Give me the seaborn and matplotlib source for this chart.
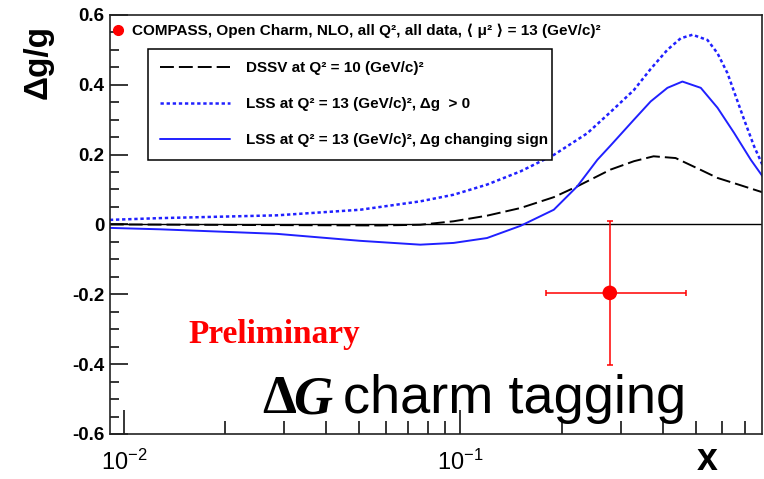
import matplotlib
matplotlib.use("Agg")
import matplotlib.pyplot as plt
import seaborn as sns
from matplotlib.lines import Line2D
from matplotlib.ticker import FixedLocator, FixedFormatter, LogLocator, LogFormatterMathtext, NullFormatter

# curves
dssv_x = [0.00909, 0.0285, 0.0578, 0.076, 0.0955, 0.12, 0.151, 0.1895, 0.2225, 0.2795,
          0.328, 0.375, 0.436, 0.518, 0.581, 0.651, 0.79]
dssv_y = [0.0, -0.002, -0.003, -0.001, 0.009, 0.025, 0.047, 0.078, 0.109, 0.157,
          0.181, 0.195, 0.19, 0.156, 0.133, 0.118, 0.092]

lss_pos_x = [0.00909, 0.0128, 0.0285, 0.0504, 0.076, 0.0955, 0.12, 0.151, 0.1895, 0.2383,
             0.2795, 0.328, 0.3676, 0.4123, 0.4517, 0.4893, 0.5422, 0.5808, 0.6217, 0.6506,
             0.6967, 0.7464, 0.7777, 0.79]
lss_pos_y = [0.013, 0.018, 0.026, 0.042, 0.066, 0.085, 0.114, 0.152, 0.199, 0.261,
             0.322, 0.385, 0.445, 0.50, 0.533, 0.543, 0.528, 0.49, 0.433, 0.38,
             0.30, 0.223, 0.185, 0.17]

lss_sign_x = [0.00909, 0.0128, 0.0285, 0.0504, 0.076, 0.0955, 0.12, 0.151, 0.1895, 0.2225,
              0.2553, 0.2795, 0.328, 0.3676, 0.4123, 0.4568, 0.518, 0.5808, 0.6506, 0.7295,
              0.79]
lss_sign_y = [-0.010, -0.014, -0.027, -0.047, -0.058, -0.053, -0.039, -0.004, 0.042, 0.109,
              0.185, 0.226, 0.30, 0.352, 0.391, 0.409, 0.391, 0.334, 0.262, 0.185,
              0.138]

# COMPASS open charm point
pt_x = [0.278]
pt_y = [-0.196]
pt_xerr_lo = [0.098]
pt_xerr_hi = [0.189]
pt_yerr = [0.207]

ytick_values = [-0.6, -0.4, -0.2, 0.0, 0.2, 0.4, 0.6]
ytick_labels = ["-0.6", "-0.4", "-0.2", "0", "0.2", "0.4", "0.6"]

legend_labels = ["DSSV at Q² = 10 (GeV/c)²",
                 "LSS at Q² = 13 (GeV/c)², Δg  > 0",
                 "LSS at Q² = 13 (GeV/c)², Δg changing sign"]
point_label = "COMPASS, Open Charm, NLO, all Q², all data, ⟨ μ² ⟩ = 13 (GeV/c)²"

sns.set_style("ticks")
plt.rcParams["font.family"] = ["Liberation Sans", "DejaVu Sans"]
plt.rcParams["mathtext.fontset"] = "custom"
plt.rcParams["mathtext.rm"] = "Liberation Sans"
plt.rcParams["lines.scale_dashes"] = False
for key in ["text.color", "axes.labelcolor", "xtick.color", "ytick.color"]:
    plt.rcParams[key] = "black"

blue = "#2020ff"
fig = plt.figure(figsize=(7.64, 4.79), dpi=100)
ax = fig.add_axes([0.144, 0.094, 0.854, 0.875])

ax.axhline(0, color="black", lw=1.0, zorder=1)
sns.lineplot(x=dssv_x, y=dssv_y, ax=ax, color="black", lw=1.4, sort=False,
             linestyle=(0, (10, 3.6)))
sns.lineplot(x=lss_pos_x, y=lss_pos_y, ax=ax, color=blue, lw=1.8, sort=False,
             linestyle=(0, (2.4, 2.0)))
sns.lineplot(x=lss_sign_x, y=lss_sign_y, ax=ax, color=blue, lw=1.4, sort=False)

ax.errorbar(pt_x, pt_y, xerr=[pt_xerr_lo, pt_xerr_hi], yerr=pt_yerr, fmt="none",
            ecolor="red", elinewidth=1.1, capsize=2.5, capthick=1.1)
sns.scatterplot(x=pt_x, y=pt_y, ax=ax, color="red", s=110, edgecolor="none", zorder=5)

ax.set_xscale("log")
ax.set_xlim(0.0091, 0.79)
ax.set_ylim(-0.6, 0.6)

ax.yaxis.set_major_locator(FixedLocator(ytick_values))
ax.yaxis.set_major_formatter(FixedFormatter(ytick_labels))
ax.yaxis.set_minor_locator(FixedLocator([v / 100 for v in range(-60, 61, 5)]))
ax.xaxis.set_major_locator(LogLocator(base=10))
ax.xaxis.set_major_formatter(LogFormatterMathtext())
ax.xaxis.set_minor_locator(LogLocator(base=10, subs=range(2, 10)))
ax.xaxis.set_minor_formatter(NullFormatter())

ax.tick_params(axis="y", which="major", direction="in", length=13, width=1.1, pad=4,
               labelsize=13.5)
ax.tick_params(axis="y", which="minor", direction="in", length=6.5, width=1.1)
ax.tick_params(axis="x", which="major", direction="in", length=17, width=1.1, pad=11,
               labelsize=17)
ax.tick_params(axis="x", which="minor", direction="in", length=9.5, width=1.1)
for lab in ax.get_yticklabels():
    lab.set_fontweight("bold")
for sp in ax.spines.values():
    sp.set_linewidth(1.2)
    sp.set_color("#222222")

ax.set_ylabel("Δg/g", fontsize=24, fontweight="bold")
ax.yaxis.set_label_coords(-0.087, 0.888)
ax.set_xlabel("x", fontsize=27, fontweight="bold", va="baseline")
ax.xaxis.set_label_coords(0.916, -0.0871)

# legends
pt_handle = Line2D([], [], marker="o", color="red", ls="none", markersize=7)
leg1 = ax.legend([pt_handle], [point_label], loc="upper left",
                 bbox_to_anchor=(0.0, 0.978), frameon=False, borderaxespad=0,
                 borderpad=0, handlelength=1.0, handletextpad=0.45,
                 prop={"family": ["Liberation Sans", "DejaVu Sans"], "weight": "bold", "size": 11})
ax.add_artist(leg1)

curve_handles = [Line2D([], [], color="black", lw=1.4, linestyle=(0, (10, 3.6))),
                 Line2D([], [], color=blue, lw=1.8, linestyle=(0, (2.4, 2.0))),
                 Line2D([], [], color=blue, lw=1.4)]
leg2 = ax.legend(curve_handles, legend_labels, loc="upper left",
                 bbox_to_anchor=(0.0582, 0.654, 0.619, 0.265), mode="expand",
                 borderaxespad=0, borderpad=0.8, labelspacing=1.45,
                 handlelength=4.6, handletextpad=1.0, fancybox=False,
                 edgecolor="black", framealpha=1,
                 prop={"family": ["Liberation Sans", "DejaVu Sans"], "weight": "bold", "size": 11})
leg2.get_frame().set_linewidth(1.1)

ax.text(0.1195, 0.217, "Preliminary", transform=ax.transAxes, color="red",
        fontsize=24, fontweight="bold", family="Liberation Serif", va="baseline")
ax.text(0.233, 0.05, "Δ", transform=ax.transAxes, fontsize=39, fontweight="bold",
        family="Liberation Serif", va="baseline")
ax.text(0.281, 0.05, "G", transform=ax.transAxes, fontsize=39, fontweight="bold",
        style="italic", family="Liberation Serif", va="baseline")
ax.text(0.357, 0.05, "charm tagging", transform=ax.transAxes, fontsize=39,
        family="Liberation Sans", va="baseline")

fig.savefig("out.png", dpi=100, facecolor="white")
